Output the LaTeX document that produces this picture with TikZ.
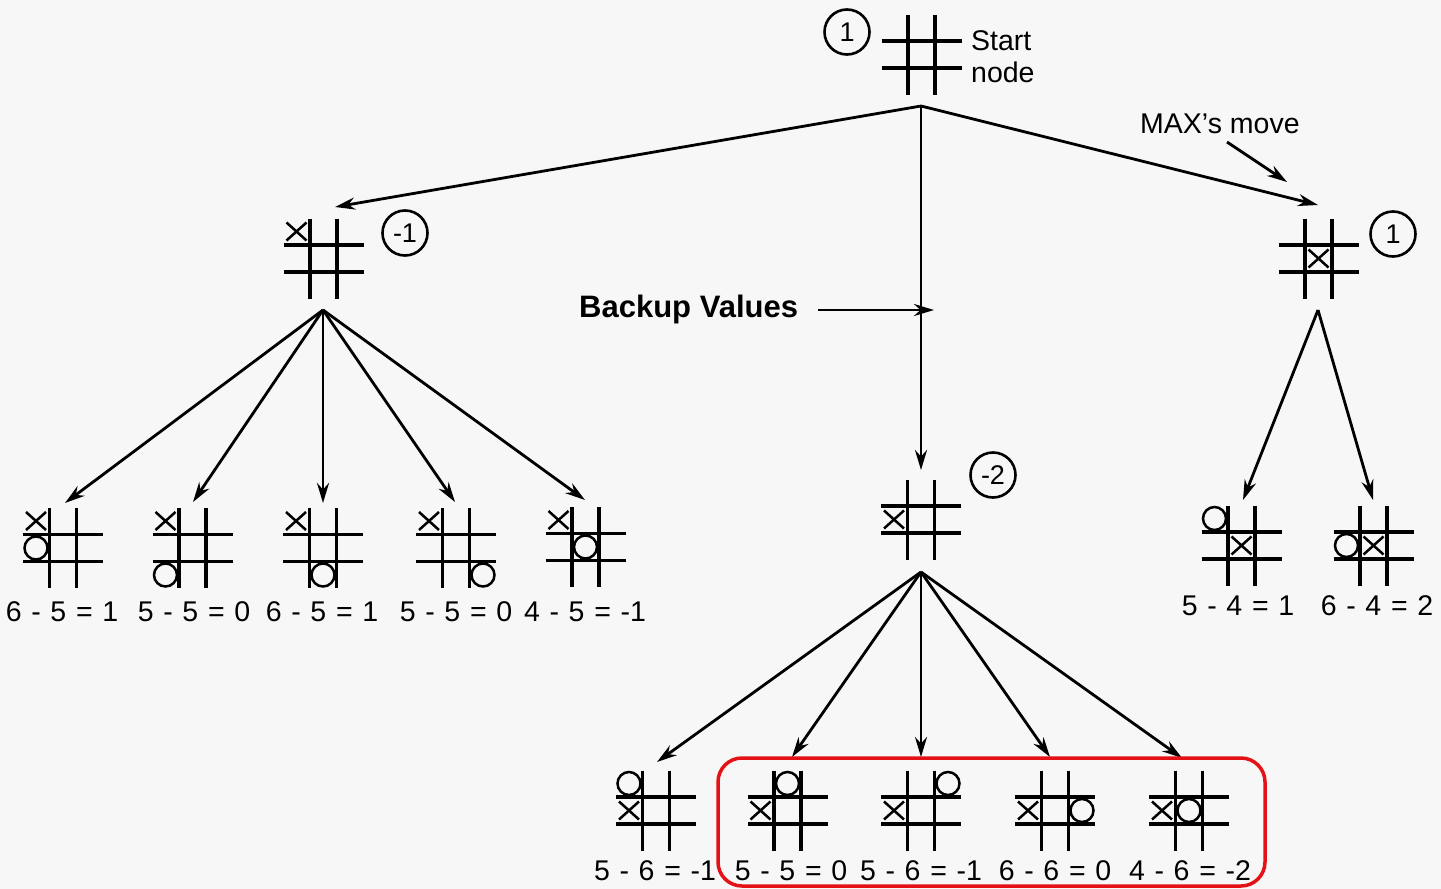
\documentclass[tikz,border=0pt]{standalone}
\usepackage{fontspec}
\setmainfont{Liberation Sans}
\usetikzlibrary{arrows.meta,calc}
\definecolor{boxred}{RGB}{228,18,22}
\newcommand\markX[3]{\pic at ($(#1)+({(#3-1)*27},{(#2-1)*27})$) {xm};}
\newcommand\markO[3]{\pic at ($(#1)+({(#3-1)*27},{(#2-1)*27})$) {om};}
\newcommand\eqsp{\hspace{0.34em}}
\begin{document}
\begin{tikzpicture}[x=1pt,y=-1pt,
  gridline/.style={line width=3.2pt},
  markline/.style={line width=2.5pt},
  arr/.style={line width=2.8pt,-{Stealth[length=20pt,width=12pt]}},
  val/.style={circle,draw,line width=2.6pt,minimum size=45pt,inner sep=0pt,font=\fontsize{27}{30}\selectfont},
  lab/.style={anchor=base,inner sep=0pt,font=\fontsize{28.5}{32}\selectfont},
  note/.style={anchor=base west,inner sep=0pt,font=\fontsize{28.5}{32}\selectfont},
  redbox/.style={draw=boxred,line width=3.5pt,rounded corners=24pt},
  board/.pic={\draw[gridline] (-13.5,-40) -- (-13.5,40) (13.5,-40) -- (13.5,40) (-40,-13.5) -- (40,-13.5) (-40,13.5) -- (40,13.5);},
  xm/.pic={\draw[markline] (-10,-9) -- (10,9) (-10,9) -- (10,-9);},
  om/.pic={\draw[markline] (0,0) circle (11.5);}
]
\fill[black!3] (0,0) rectangle (1441,889);
\useasboundingbox (0,0) rectangle (1441,889);

% boards
\coordinate (B0) at (921.5,54.5);
\coordinate (BL) at (323.5,258.5);
\coordinate (BM) at (921,519.5);
\coordinate (BR) at (1318.5,258.5);
\coordinate (L1) at (63,548);
\coordinate (L2) at (192.5,548);
\coordinate (L3) at (323,548);
\coordinate (L4) at (456,548);
\coordinate (L5) at (585.5,547);
\coordinate (M1) at (656,810.5);
\coordinate (M2) at (787.5,810.5);
\coordinate (M3) at (921,810.5);
\coordinate (M4) at (1055,810.5);
\coordinate (M5) at (1189,810.5);
\coordinate (R1) at (1241.5,545.5);
\coordinate (R2) at (1373.5,545.5);
\foreach \b in {B0,BL,BM,BR,L1,L2,L3,L4,L5,M1,M2,M3,M4,M5,R1,R2}
  \pic at (\b) {board};

% marks
\markX{BL}{0}{0}
\markX{BM}{1}{0}
\markX{BR}{1}{1}
\markX{L1}{0}{0}\markO{L1}{1}{0}
\markX{L2}{0}{0}\markO{L2}{2}{0}
\markX{L3}{0}{0}\markO{L3}{2}{1}
\markX{L4}{0}{0}\markO{L4}{2}{2}
\markX{L5}{0}{0}\markO{L5}{1}{1}
\markX{M1}{1}{0}\markO{M1}{0}{0}
\markX{M2}{1}{0}\markO{M2}{0}{1}
\markX{M3}{1}{0}\markO{M3}{0}{2}
\markX{M4}{1}{0}\markO{M4}{1}{2}
\markX{M5}{1}{0}\markO{M5}{1}{1}
\markX{R1}{1}{1}\markO{R1}{0}{0}
\markX{R2}{1}{1}\markO{R2}{1}{0}

% values in circles
\node[val] (v0) at (847,32) {1};
\node[val] (vL) at (405,233) {-1};
\node[val] (vM) at (993,475) {-2};
\node[val] (vR) at (1393,234) {1};

% notes
\node[note] (st1) at (971,50) {Start};
\node[note] (st2) at (971,82) {node};
\node[note] (max) at (1140,133) {MAX's move};
\node[anchor=base west,inner sep=0pt,font=\fontsize{31}{36}\selectfont\bfseries] (bv) at (579,317) {Backup Values};

% leaf labels
\node[lab] (tL1) at (62,621) {6\eqsp-\eqsp5\eqsp=\eqsp1};
\node[lab] (tL2) at (194,621) {5\eqsp-\eqsp5\eqsp=\eqsp0};
\node[lab] (tL3) at (322,621) {6\eqsp-\eqsp5\eqsp=\eqsp1};
\node[lab] (tL4) at (456,621) {5\eqsp-\eqsp5\eqsp=\eqsp0};
\node[lab] (tL5) at (585,621) {4\eqsp-\eqsp5\eqsp=\eqsp-1};
\node[lab] (tR1) at (1238,615) {5\eqsp-\eqsp4\eqsp=\eqsp1};
\node[lab] (tR2) at (1377,615) {6\eqsp-\eqsp4\eqsp=\eqsp2};
\node[lab] (tM1) at (655,880) {5\eqsp-\eqsp6\eqsp=\eqsp-1};
\node[lab] (tM2) at (791,880) {5\eqsp-\eqsp5\eqsp=\eqsp0};
\node[lab] (tM3) at (921,880) {5\eqsp-\eqsp6\eqsp=\eqsp-1};
\node[lab] (tM4) at (1055,880) {6\eqsp-\eqsp6\eqsp=\eqsp0};
\node[lab] (tM5) at (1190,880) {4\eqsp-\eqsp6\eqsp=\eqsp-2};

% connector ends
\coordinate (o0) at (921,106);
\coordinate (oL) at (323,310);
\coordinate (oM) at (921,572);
\coordinate (oR) at (1318,310);
\coordinate (iL) at (335,207);
\coordinate (iM) at (921,470);
\coordinate (iR) at (1318,205);
\coordinate (iL1) at (65,503);
\coordinate (iL2) at (193,502);
\coordinate (iL3) at (323,503);
\coordinate (iL4) at (455,502);
\coordinate (iL5) at (585,500);
\coordinate (iM1) at (657,762);
\coordinate (iM2) at (792,757);
\coordinate (iM3) at (921,757);
\coordinate (iM4) at (1050,757);
\coordinate (iM5) at (1182,758);
\coordinate (iR1) at (1243,500);
\coordinate (iR2) at (1373,500);
\coordinate (bvs) at (818,310);
\coordinate (bve) at (934,310);
\coordinate (mxs) at (1227,142);
\coordinate (mxe) at (1287,182);

\draw[arr] (o0) -- (iL);
\draw[arr] (o0) -- (iM);
\draw[arr] (o0) -- (iR);
\foreach \i in {1,...,5} {\draw[arr] (oL) -- (iL\i); \draw[arr] (oM) -- (iM\i);}
\foreach \i in {1,2} \draw[arr] (oR) -- (iR\i);
\draw[arr] (bvs) -- (bve);
\draw[arr] (mxs) -- (mxe);

\draw[redbox] (718,758) rectangle (1265,886);
\end{tikzpicture}
\end{document}
